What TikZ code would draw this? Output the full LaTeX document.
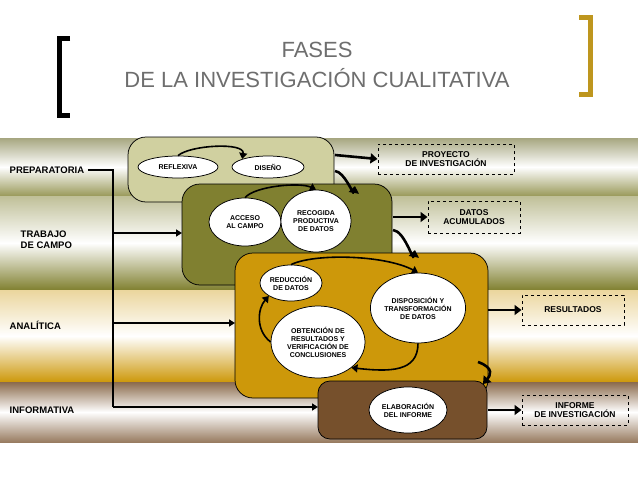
\documentclass[tikz,border=0pt]{standalone}
\usepackage{fontspec}
\setmainfont{Liberation Sans}
\usetikzlibrary{arrows.meta,shapes.geometric}
\definecolor{prepc}{RGB}{208,208,160}
\definecolor{campoc}{RGB}{128,128,48}
\definecolor{analc}{RGB}{205,152,10}
\definecolor{infoc}{RGB}{118,80,44}
\definecolor{titlec}{RGB}{110,110,110}
\definecolor{goldc}{RGB}{190,150,30}
\tikzset{every picture/.style={line width=0.75pt}}
\tikzset{
  phase/.style={font=\bfseries\fontsize{9.5}{11}\selectfont, align=left, anchor=west},
  stagebox/.style={draw, rounded corners=18pt},
  oval/.style={ellipse, draw, fill=white, inner sep=0pt, align=center, font=\bfseries\fontsize{7}{8}\selectfont},
  outbox/.style={draw, dashed, line width=1pt, align=center, font=\bfseries\fontsize{8.5}{9.5}\selectfont},
  fat/.style={line width=2.6pt, -{Triangle[length=7pt,width=10pt]}},
  thin/.style={line width=2pt, -{Triangle[length=6pt,width=7pt]}},
  feed/.style={line width=1.6pt, -{Triangle[length=6pt,width=8pt]}}
}
\begin{document}
\begin{tikzpicture}[x=1pt,y=1pt,yscale=-1]
\useasboundingbox (0,0) rectangle (638,479);
\fill[white] (0,0) rectangle (638,479);
% bands
\shade[top color=prepc!80!black, bottom color=campoc!80, middle color=white] (0,138) rectangle (638,196);
\shade[top color=campoc!50, bottom color=campoc, middle color=white] (0,196) rectangle (638,290);
\shade[top color=analc!40, bottom color=analc, middle color=white] (0,290) rectangle (638,382);
\shade[top color=infoc!85, bottom color=infoc!75, middle color=white] (0,382) rectangle (638,442);
% title
\node[titlec, font=\fontsize{22}{24}\selectfont] (t1) at (317,50) {FASES};
\node[titlec, font=\fontsize{22}{24}\selectfont] (t2) at (317,78) {DE LA INVESTIGACIÓN CUALITATIVA};
\draw[line width=5pt] (70,38) -- (59,38) -- (59,115) -- (70,115);
\draw[goldc, line width=5pt] (579,17) -- (590,17) -- (590,94) -- (579,94);
% phase labels
\node[phase] (prep) at (6,170) {PREPARATORIA};
\node[phase] (campo) at (17,240) {TRABAJO\\DE CAMPO};
\node[phase] (anal) at (6,325) {ANALÍTICA};
\node[phase] (info) at (6,410) {INFORMATIVA};
% stage boxes
\draw[stagebox, fill=prepc] (128,137) rectangle (334,202);
\draw[stagebox, fill=campoc] (182,184) rectangle (392,285);
\draw[stagebox, fill=analc] (235,253) rectangle (488,398);
\draw[stagebox, fill=infoc, rounded corners=12pt] (318,381) rectangle (487,439);
\coordinate (bprep) at (128,170);
\coordinate (bcampo) at (182,233);
\coordinate (banal) at (235,323);
\coordinate (binfo) at (318,407);
% ovals
\node[oval, minimum width=80pt, minimum height=22pt] (refl) at (178,167) {REFLEXIVA};
\node[oval, minimum width=72pt, minimum height=22pt] (dise) at (268,167) {DISEÑO};
\node[oval, minimum width=72pt, minimum height=48pt] (acc) at (245,222) {ACCESO\\AL CAMPO};
\node[oval, minimum width=70pt, minimum height=62pt] (rec) at (316,221) {RECOGIDA\\PRODUCTIVA\\DE DATOS};
\node[oval, minimum width=62pt, minimum height=36pt] (red) at (291,283) {REDUCCIÓN\\DE DATOS};
\node[oval, minimum width=88pt, minimum height=70pt] (disp) at (418,308) {DISPOSICIÓN Y\\TRANSFORMACIÓN\\DE DATOS};
\node[oval, minimum width=94pt, minimum height=72pt] (obt) at (318,342) {OBTENCIÓN DE\\RESULTADOS Y\\VERIFICACIÓN DE\\CONCLUSIONES};
\node[oval, minimum width=78pt, minimum height=46pt] (elab) at (408,410) {ELABORACIÓN\\DEL INFORME};
% outputs
\node[outbox, minimum width=136pt, minimum height=30pt] (proy) at (446,159) {PROYECTO\\DE INVESTIGACIÓN};
\node[outbox, minimum width=92pt, minimum height=32pt] (datos) at (474,217) {DATOS\\ACUMULADOS};
\node[outbox, minimum width=102pt, minimum height=30pt] (resu) at (573,310) {RESULTADOS};
\node[outbox, minimum width=106pt, minimum height=30pt] (inf) at (575,410) {INFORME\\DE INVESTIGACIÓN};
% left spine
\draw[line width=2pt] (prep.east) -- (113,170) -- (113,407);
\draw[thin] (113,233) -- (bcampo);
\draw[thin] (113,323) -- (banal);
\draw[thin] (113,407) -- (binfo);
% inner cycles
\draw[feed] (refl.north) .. controls (190,145) and (245,142) .. (dise.north west);
\draw[feed] (acc.north) .. controls (255,186) and (300,182) .. (rec.north);
\draw[feed] (red.north) .. controls (315,253) and (385,255) .. (disp.north);
\draw[feed] (disp.south) .. controls (418,372) and (390,372) .. (obt.south east);
\draw[feed] (obt.west) .. controls (255,330) and (258,308) .. (red.south west);
% outputs and links
\draw[fat] (335,155) -- (proy.west);
\draw[fat] (335,171) to[out=5,in=100] (355,186);
\draw[fat] (393,217) -- (datos.west);
\draw[fat] (393,230) to[out=5,in=100] (415,250);
\draw[fat] (488,310) -- (resu.west);
\draw[fat] (478,362) .. controls (495,368) and (490,376) .. (483,384);
\draw[fat] (488,410) -- (inf.west);
\end{tikzpicture}
\end{document}
